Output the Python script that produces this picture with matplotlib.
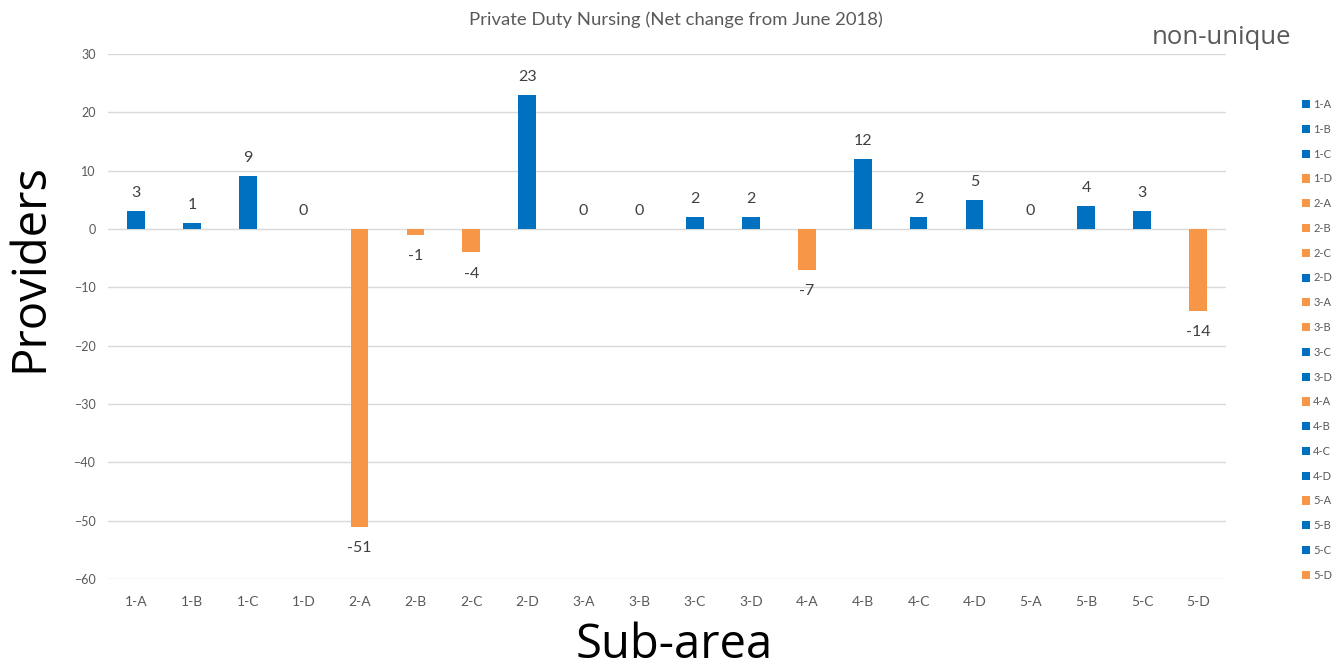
import matplotlib
matplotlib.use("Agg")
import matplotlib.pyplot as plt
from matplotlib.patches import Patch

categories = ["1-A", "1-B", "1-C", "1-D", "2-A", "2-B", "2-C", "2-D", "3-A", "3-B",
              "3-C", "3-D", "4-A", "4-B", "4-C", "4-D", "5-A", "5-B", "5-C", "5-D"]
values = [3, 1, 9, 0, -51, -1, -4, 23, 0, 0, 2, 2, -7, 12, 2, 5, 0, 4, 3, -14]
yticks = [30, 20, 10, 0, -10, -20, -30, -40, -50, -60]

BLUE = "#0070C0"
ORANGE = "#F79646"
colors = [BLUE if v > 0 else ORANGE for v in values]

fig = plt.figure(figsize=(13.43, 6.71), dpi=100)
ax = fig.add_axes([108/1343, 1-579/671, (1226-108)/1343, (579-54)/671])

x = list(range(len(categories)))
ax.bar(x, values, width=0.32, color=colors, zorder=3)

for xi, v in zip(x, values):
    if v >= 0:
        ax.annotate(str(v), (xi, v), xytext=(0, 8), textcoords="offset points",
                    ha="center", va="bottom", fontsize=11.5, color="#404040", family="Lato")
    else:
        ax.annotate(str(v), (xi, v), xytext=(0, -10.5), textcoords="offset points",
                    ha="center", va="top", fontsize=11.5, color="#404040", family="Lato")

ax.set_xlim(-0.5, len(categories) - 0.5)
ax.set_ylim(-60, 30)
ax.set_yticks(yticks)
ax.set_xticks(x)
ax.set_xticklabels(categories)
ax.grid(axis="y", color="#d9d9d9", linewidth=1, zorder=0)
for s in ax.spines.values():
    s.set_visible(False)
ax.tick_params(axis="both", length=0, labelcolor="#595959")
ax.tick_params(axis="x", pad=12, labelsize=10)
ax.tick_params(axis="y", pad=9, labelsize=9)
for lab in ax.get_xticklabels() + ax.get_yticklabels():
    lab.set_family("Lato")

fig.text(676/1343, 1-20/671, "Private Duty Nursing (Net change from June 2018)",
         ha="center", va="center", fontsize=13.3, color="#595959", family="Lato")
fig.text(1222/1343, 1-38/671, "non-unique", ha="center", va="center",
         fontsize=18.5, color="#595959", family="Open Sans")
fig.text(30/1343, 1-268/671, "Providers", rotation=90, ha="center", va="center",
         fontsize=34, color="black", family="Open Sans")
fig.text(674/1343, 1-645/671, "Sub-area", ha="center", va="center",
         fontsize=34, color="black", family="Open Sans")

handles = [Patch(facecolor=c, edgecolor="none") for c in colors]
leg = fig.legend(handles, categories, loc="upper left",
                 bbox_to_anchor=(1302/1343, 1-99/671), frameon=False,
                 fontsize=8, labelspacing=1.24, handlelength=0.75, handleheight=0.75,
                 handletextpad=0.25, borderaxespad=0, borderpad=0)
for t in leg.get_texts():
    t.set_color("#595959")
    t.set_family("Lato")

fig.savefig("out.png", dpi=100)
